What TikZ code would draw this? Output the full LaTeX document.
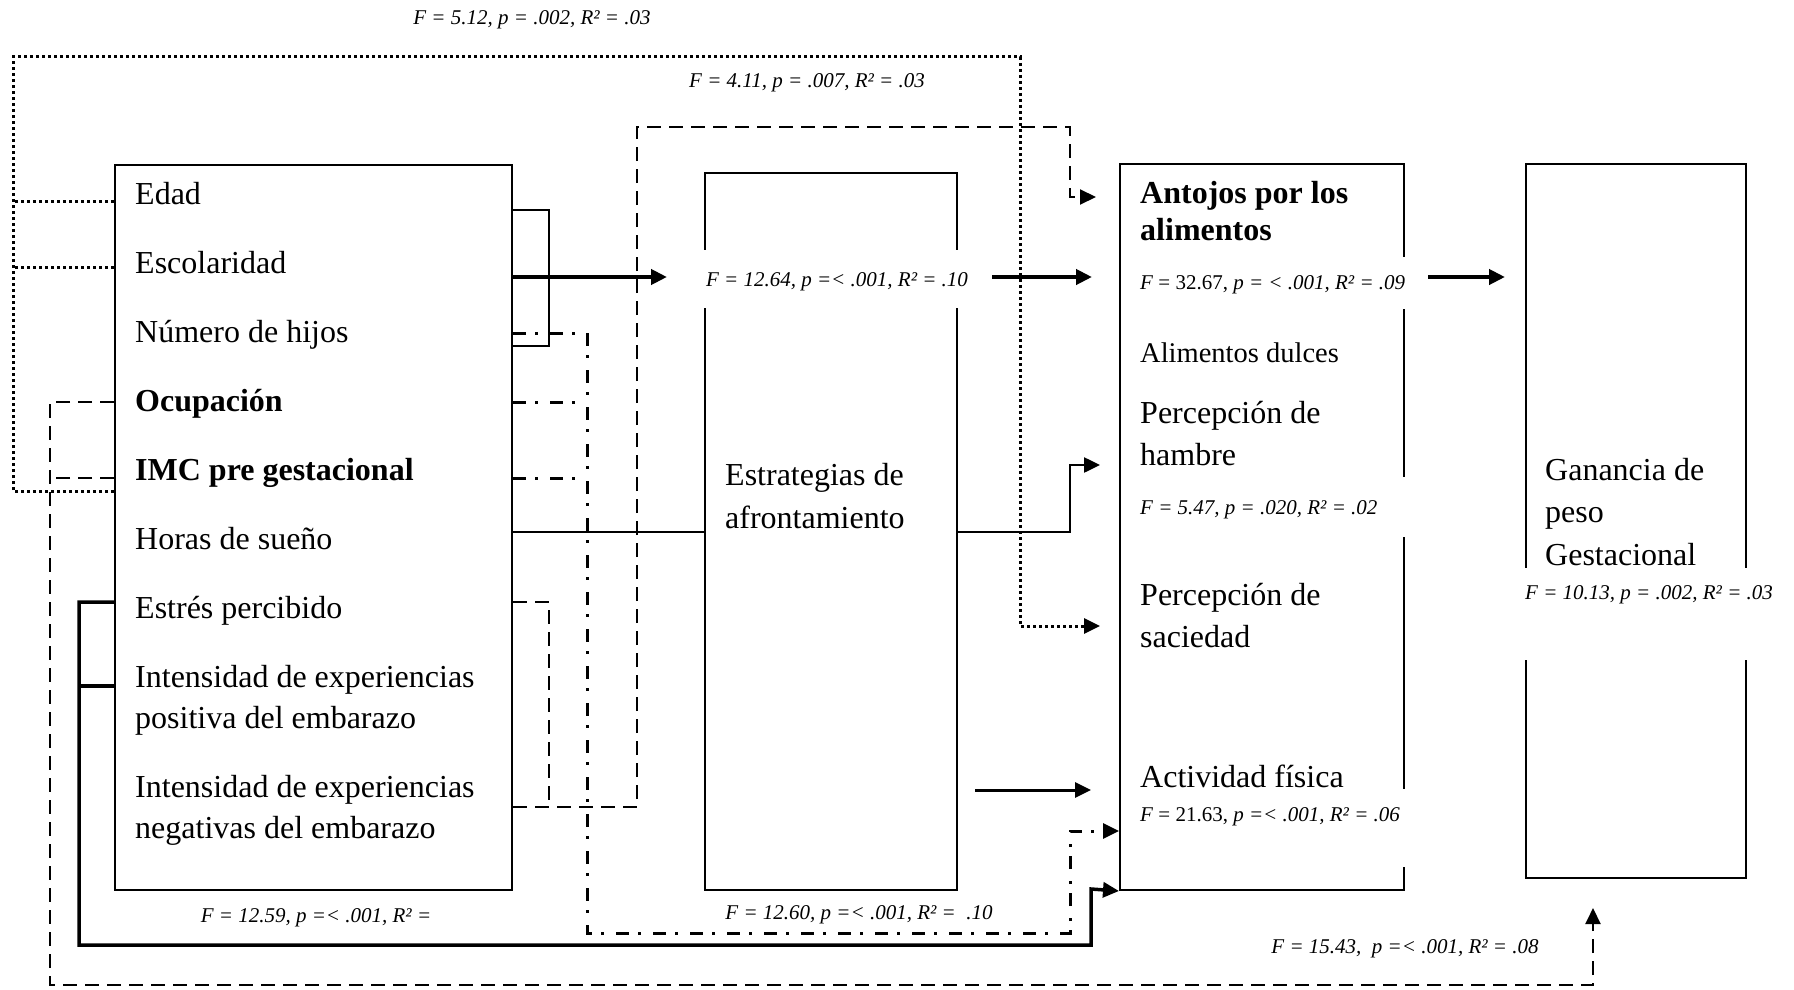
\documentclass[tikz,border=0pt]{standalone}
\usepackage{fontspec}
\setmainfont{Liberation Serif}
\usetikzlibrary{arrows.meta}
\begin{document}
\begin{tikzpicture}[x=1pt,y=-1pt,
  tbox/.style={draw, line width=2pt, inner sep=0pt, anchor=north west},
  item/.style={anchor=base west, inner sep=0pt, font=\fontsize{32}{41}\selectfont},
  itemb/.style={anchor=base west, inner sep=0pt, font=\fontsize{32}{41}\selectfont\bfseries},
  itemsm/.style={anchor=base west, inner sep=0pt, font=\fontsize{28.5}{36}\selectfont},
  stat/.style={anchor=base, inner sep=0pt, font=\fontsize{21}{25}\selectfont\itshape},
  gapstat/.style={stat, fill=white, inner xsep=4pt, inner ysep=0pt},
  arr/.style={-{Triangle[length=16pt,width=15pt]}},
  dotl/.style={line width=3pt, dash pattern=on 3pt off 3pt},
  dashl/.style={line width=2pt, dash pattern=on 14pt off 8pt},
  dashdotl/.style={line width=3pt, dash pattern=on 13pt off 9pt on 3pt off 12pt},
  thinl/.style={line width=2pt},
  medl/.style={line width=2.5pt},
  arrl/.style={line width=3pt},
  thickbl/.style={line width=3.5pt},
  thickl/.style={line width=4pt}]
\path[fill=white] (0,0) rectangle (1794,990);
\useasboundingbox (0,0) rectangle (1794,990);

% boxes
\node[tbox, minimum width=397pt, minimum height=725pt] (b1) at (114,164) {};
\node[tbox, minimum width=252pt, minimum height=717pt] (b2) at (704,172) {};
\node[tbox, minimum width=284pt, minimum height=726pt] (b3) at (1119,163) {};
\node[tbox, minimum width=220pt, minimum height=714pt] (b4) at (1525,163) {};

% box 1 items
\node[item] (edad) at (135,204) {Edad};
\node[item] (esco) at (135,273) {Escolaridad};
\node[item] (hijos) at (135,342) {Número de hijos};
\node[itemb] (ocup) at (135,411) {Ocupación};
\node[itemb] (imc) at (135,480) {IMC pre gestacional};
\node[item] (horas) at (135,549) {Horas de sueño};
\node[item] (estres) at (135,618) {Estrés percibido};
\node[item] (pos1) at (135,687) {Intensidad de experiencias};
\node[item] (pos2) at (135,728) {positiva del embarazo};
\node[item] (neg1) at (135,797) {Intensidad de experiencias};
\node[item] (neg2) at (135,838) {negativas del embarazo};

% box 2
\node[item] (est1) at (725,485) {Estrategias de};
\node[item] (est2) at (725,528) {afrontamiento};

% box 3
\node[itemb] (ant1) at (1140,203) {Antojos por los};
\node[itemb] (ant2) at (1140,240) {alimentos};
\node[itemsm] (dulces) at (1140,362) {Alimentos dulces};
\node[item] (ham1) at (1140,423) {Percepción de};
\node[item] (ham2) at (1140,465) {hambre};
\node[item] (sac1) at (1140,605) {Percepción de};
\node[item] (sac2) at (1140,647) {saciedad};
\node[item] (act) at (1140,787) {Actividad física};

% box 4
\node[item] (g1) at (1545,480) {Ganancia de};
\node[item] (g2) at (1545,522) {peso};
\node[item] (g3) at (1545,565) {Gestacional};

% statistics
\node[stat] (s1) at (532,25) {F = 5.12, p = .002, R² = .03};
\node[stat] (s2) at (807,88) {F = 4.11, p = .007, R² = .03};
\node[gapstat, text height=36pt, text depth=22pt, minimum width=280pt] (s3) at (837,286) {F = 12.64, p =< .001, R² = .10};
\node[gapstat, anchor=base west, text height=32pt, text depth=20pt] (s4) at (1136,289) {\makebox[270pt][l]{F\textup{ = 32.67, }p = < .001, R² = .09}};
\node[gapstat, anchor=base west, text height=37pt, text depth=23pt] (s5) at (1136,514) {\makebox[270pt][l]{F = 5.47, p = .020, R² = .02}};
\node[gapstat, anchor=base west, text height=32pt, text depth=46pt] (s6) at (1136,821) {\makebox[270pt][l]{F\textup{ = 21.63, }p =< .001, R² = .06}};
\node[gapstat, anchor=base west, text height=31pt, text depth=61pt] (s7) at (1521,599) {F = 10.13, p = .002, R² = .03};
\node[stat] (s8) at (316,922) {F = 12.59, p =< .001, R² =};
\node[stat] (s9) at (859,919) {F = 12.60, p =< .001, R² = \ .10};
\node[stat] (s10) at (1405,953) {F = 15.43, \ p =< .001, R² = .08};

% dotted connectors
\coordinate (dEd) at (13,201);
\coordinate (dEs) at (13,267);
\coordinate (dBL) at (13,491);
\coordinate (dTL) at (13,57);
\coordinate (dTR) at (1020,57);
\coordinate (dBR) at (1020,626);
\coordinate (sacIn) at (1100,626);
\draw[dotl] (dEd -| b1.west) -- (dEd);
\draw[dotl] (dEs -| b1.west) -- (dEs);
\draw[dotl, arr] (dBL -| b1.west) -- (dBL) -- (dTL) -- (dTR) -- (dBR) -- (sacIn);

% dashed connectors
\coordinate (dsE) at (549,602);
\coordinate (dsE2) at (549,807);
\coordinate (dsN) at (637,807);
\coordinate (dsN2) at (637,127);
\coordinate (dsR) at (1070,127);
\coordinate (dsR2) at (1070,197);
\coordinate (antIn) at (1096,197);
\draw[dashl] (dsE -| b1.east) -- (dsE) -- (dsE2);
\draw[dashl, arr] (dsN -| b1.east) -- (dsN) -- (dsN2) -- (dsR) -- (dsR2) -- (antIn);
\coordinate (dOc) at (50,402);
\coordinate (dIm) at (50,478);
\coordinate (dBl) at (50,985);
\coordinate (dBr) at (1593,985);
\coordinate (gIn) at (1593,908);
\draw[dashl] (dIm -| b1.west) -- (dIm);
\draw[dashl, arr] (dOc -| b1.west) -- (dOc) -- (dBl) -- (dBr) -- (gIn);

% dash-dot connectors
\coordinate (ddH) at (587,333);
\coordinate (ddO) at (587,402);
\coordinate (ddI) at (587,478);
\coordinate (ddB) at (587,933);
\coordinate (ddR) at (1070,933);
\coordinate (ddU) at (1070,831);
\draw[dashdotl] (ddO -| b1.east) -- (ddO);
\draw[dashdotl] (ddI -| b1.east) -- (ddI);
\draw[dashdotl, arr] (ddH -| b1.east) -- (ddH) -- (ddB) -- (ddR) -- (ddU) -- (ddU -| b3.west);

% solid bracket
\coordinate (brT) at (549,210);
\coordinate (brB) at (549,346);
\draw[thinl] (brT -| b1.east) -- (brT) -- (brB) -- (brB -| b1.east);

% thick arrows
\coordinate (escY) at (667,277);
\draw[thickl, arr] (escY -| b1.east) -- (escY);
\coordinate (m1) at (992,277);
\coordinate (m2) at (1092,277);
\draw[thickl, arr] (m1) -- (m2);
\coordinate (m3) at (1428,277);
\coordinate (m4) at (1505,277);
\draw[thickl, arr] (m3) -- (m4);

% horas de sueño line
\coordinate (hy) at (0,532);
\coordinate (hc) at (1070,532);
\coordinate (hc2) at (1070,465);
\coordinate (hamIn) at (1100,465);
\draw[medl] (hy -| b1.east) -- (hy -| b2.west);
\draw[medl, arr] (hy -| b2.east) -- (hc) -- (hc2) -- (hamIn);

% actividad arrow
\coordinate (a1) at (975,790);
\coordinate (a2) at (1091,790);
\draw[arrl, arr] (a1) -- (a2);

% thick bottom solid connector
\coordinate (tE) at (79,602);
\coordinate (tP) at (79,686);
\coordinate (tB) at (79,945);
\coordinate (tR) at (1091,945);
\coordinate (tU) at (1091,889);
\draw[thickbl] (tP -| b1.west) -- (tP);
\draw[thickbl, arr] (tE -| b1.west) -- (tE) -- (tB) -- (tR) -- (tU) -- (b3.south west);
\end{tikzpicture}
\end{document}
